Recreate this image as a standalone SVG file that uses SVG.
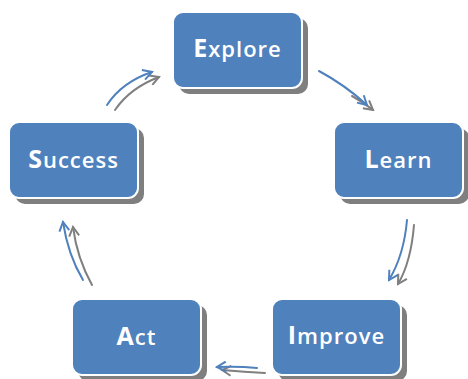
<svg xmlns="http://www.w3.org/2000/svg" width="468" height="379" viewBox="0 0 468 379">
<defs>
<style>
.box{fill:#4F81BD;stroke:#ffffff;stroke-width:2}
.sh{fill:#7F7F7F}
.lbl{font-family:"Open Sans","Liberation Sans",sans-serif;font-size:22px;font-weight:600;fill:#ffffff;text-anchor:middle;letter-spacing:1px}
.big{font-size:25px;font-weight:700}
.ab{fill:none;stroke:#4F81BD;stroke-width:2;stroke-linecap:round}
.ag{fill:none;stroke:#7F7F7F;stroke-width:2;stroke-linecap:round}
</style>
<marker id="hb" viewBox="0 0 12 12" refX="10" refY="6" markerWidth="12" markerHeight="12" markerUnits="userSpaceOnUse" orient="auto">
<path d="M1,1 L10,6 L1,11" fill="none" stroke="#4F81BD" stroke-width="2"/>
</marker>
<marker id="hg" viewBox="0 0 12 12" refX="10" refY="6" markerWidth="12" markerHeight="12" markerUnits="userSpaceOnUse" orient="auto">
<path d="M1,1 L10,6 L1,11" fill="none" stroke="#7F7F7F" stroke-width="2"/>
</marker>
</defs>
<rect width="468" height="379" fill="#ffffff"/>
<g id="connectors">
<path class="ag" d="M115,110 Q130,88 159,77" marker-end="url(#hg)"/>
<path class="ab" d="M107,105 Q122,82 152,72" marker-end="url(#hb)"/>
<path class="ag" d="M352,96 Q363,102 373,110" marker-end="url(#hg)"/>
<path class="ab" d="M319,71 Q345,85 367,105" marker-end="url(#hb)"/>
<path class="ag" d="M414,225 Q411,262 398,284" marker-end="url(#hg)"/>
<path class="ab" d="M407,220 Q404,255 389,280" marker-end="url(#hb)"/>
<path class="ag" d="M265,373 Q245,372 222,370" marker-end="url(#hg)"/>
<path class="ab" d="M257,368 Q238,366 217,367" marker-end="url(#hb)"/>
<path class="ag" d="M92,285 Q77,258 73,227" marker-end="url(#hg)"/>
<path class="ab" d="M83,280 Q68,255 63,222" marker-end="url(#hb)"/>
</g>
<g id="explore">
<rect class="sh" x="179" y="18" width="129" height="76" rx="10"/>
<rect class="box" x="173" y="12" width="129" height="76" rx="10"/>
<text class="lbl" x="237.5" y="57"><tspan class="big">E</tspan>xplore</text>
</g>
<g id="learn">
<rect class="sh" x="340" y="128" width="129" height="76" rx="10"/>
<rect class="box" x="334" y="122" width="129" height="76" rx="10"/>
<text class="lbl" x="398.5" y="168"><tspan class="big">L</tspan>earn</text>
</g>
<g id="improve">
<rect class="sh" x="278" y="305" width="129" height="76" rx="10"/>
<rect class="box" x="272" y="299" width="129" height="76" rx="10"/>
<text class="lbl" x="336.5" y="344"><tspan class="big">I</tspan>mprove</text>
</g>
<g id="act">
<rect class="sh" x="78" y="305" width="129" height="76" rx="10"/>
<rect class="box" x="72" y="299" width="129" height="76" rx="10"/>
<text class="lbl" x="136.5" y="345"><tspan class="big">A</tspan>ct</text>
</g>
<g id="success">
<rect class="sh" x="15" y="128" width="129" height="76" rx="10"/>
<rect class="box" x="9" y="122" width="129" height="76" rx="10"/>
<text class="lbl" x="73.5" y="168"><tspan class="big">S</tspan>uccess</text>
</g>
</svg>
